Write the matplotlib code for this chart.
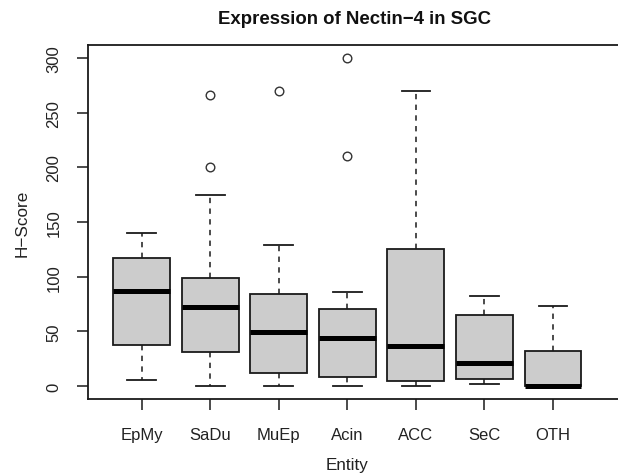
import matplotlib
matplotlib.use("Agg")
import matplotlib.pyplot as plt

plt.rcParams['font.family'] = ['Liberation Sans', 'DejaVu Sans']

entities = ["EpMy", "SaDu", "MuEp", "Acin", "ACC", "SeC", "OTH"]
whisker_low = [5, 0, 0, 0, 0, 1.5, 0]
q1 = [37, 31, 12, 8, 4.5, 6, 0]
median = [87, 72, 49, 43.5, 36.5, 21, 0]
q3 = [117, 99, 84.5, 70, 125, 65, 32]
whisker_high = [140, 175, 129, 86, 270, 82, 73.5]
outliers = [[], [200, 266], [270], [210, 300], [], [], []]

title = "Expression of Nectin\u22124 in SGC"
xlabel = "Entity"
ylabel = "H\u2212Score"
yticks = [0, 50, 100, 150, 200, 250, 300]

W, H = 618, 477
dpi = 100
fig = plt.figure(figsize=(W / dpi, H / dpi), dpi=dpi)
left_px, right_px, top_px, bottom_px = 88, 622, 46, 400
ax = fig.add_axes([left_px / W, 1 - bottom_px / H, (right_px - left_px) / W, (bottom_px - top_px) / H])

stats = []
for i, name in enumerate(entities):
    stats.append(dict(label=name, whislo=whisker_low[i], q1=q1[i], med=median[i],
                      q3=q3[i], whishi=whisker_high[i], fliers=outliers[i]))

edge = "#1a1a1a"
ax.bxp(stats, positions=range(1, len(entities) + 1), widths=0.83, capwidths=0.42,
       patch_artist=True, showfliers=True,
       boxprops=dict(facecolor="#CCCCCC", edgecolor=edge, linewidth=1.3),
       medianprops=dict(color="black", linewidth=3.6, solid_capstyle="butt"),
       whiskerprops=dict(color=edge, linewidth=1.1, linestyle=(0, (3.5, 3.5))),
       capprops=dict(color=edge, linewidth=1.3),
       flierprops=dict(marker="o", markerfacecolor="none", markeredgecolor="#333333",
                       markersize=6.2, markeredgewidth=1.0))

# 68.55 px per category unit, first category 53.7 px right of the frame
unit = 68.55
ax.set_xlim(1 - 53.7 / unit, 1 + (right_px - 141.7) / unit)
ax.set_ylim(-12, 312)
ax.set_yticks(yticks)
ax.set_yticklabels([str(v) for v in yticks], rotation=90, va="center")
ax.set_xticks(range(1, len(entities) + 1))
ax.set_xticklabels(entities)

for s in ax.spines.values():
    s.set_linewidth(1.3)
    s.set_color(edge)
ax.spines["right"].set_visible(False)

ax.tick_params(axis="both", direction="out", length=8, width=1.1, color=edge,
               labelsize=12, labelcolor="#222222")
ax.tick_params(axis="x", pad=12)
ax.tick_params(axis="y", pad=11)

ax.set_xlabel(xlabel, fontsize=12.3, color="#222222", labelpad=12)
ax.xaxis.set_label_coords((347.5 - left_px) / (right_px - left_px), -0.165)
ax.set_ylabel(ylabel, fontsize=12.3, color="#222222", labelpad=12)
fig.text(355 / W, 1 - 24 / H, title, ha="center", va="baseline",
         fontsize=13.4, fontweight="bold", color="#111111")

fig.savefig("out.png", dpi=dpi)
